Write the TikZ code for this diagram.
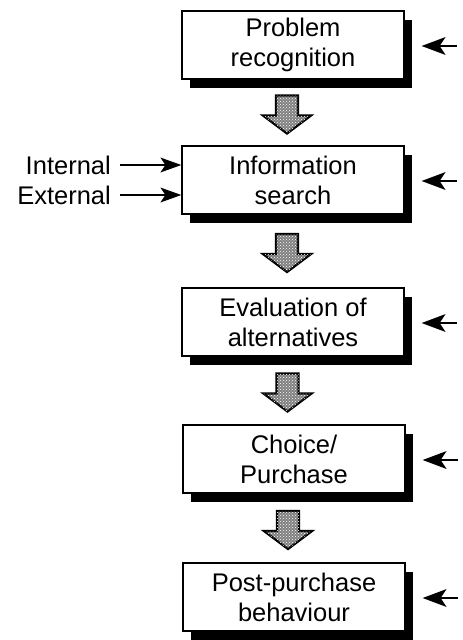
\documentclass[tikz,border=0pt]{standalone}
\usepackage{fontspec}
\setmainfont{Liberation Sans}
\usetikzlibrary{shadows,patterns,calc}
\begin{document}
\begin{tikzpicture}[x=1pt,y=-1pt,
  stage/.style={draw=black, line width=1.3pt, fill=white,
    minimum width=222pt, minimum height=68pt, inner sep=0pt,
    align=center, font=\fontsize{25.5}{30}\selectfont,
    drop shadow={shadow xshift=8pt, shadow yshift=-9pt, fill=black, opacity=1}},
  sidelabel/.style={anchor=east, inner sep=0pt, font=\fontsize{25.5}{30}\selectfont},
  blockarrow/.style={draw=black, line width=2.2pt, fill=black!50,
    postaction={pattern=crosshatch dots, pattern color=white}},
  arrowline/.style={line width=1.8pt},
  headfill/.style={fill=black},
]
\useasboundingbox (0,0) rectangle (463,640);

\node[stage] (b1) at (293,45) {Problem\\recognition};
\node[stage] (b2) at (293,180) {Information\\search};
\node[stage] (b3) at (293,322) {Evaluation of\\alternatives};
\node[stage] (b4) at (294,459) {Choice/\\Purchase};
\node[stage] (b5) at (294,597) {Post-purchase\\behaviour};

% block arrows between stages
\foreach \a/\b/\n in {b1/b2/m1, b2/b3/m2, b3/b4/m3, b4/b5/m4}{
  \coordinate (\n) at ($(\a.south)!0.5!(\b.north)+(-6,2)$);
  \draw[blockarrow, shift={(\n)}] (-11,-19) -- (11,-19) -- (11,1) -- (24,1)
     -- (0,19) -- (-24,1) -- (-11,1) -- cycle;
}

% internal / external inputs
\node[sidelabel] (int) at (111,165) {Internal};
\node[sidelabel] (ext) at (111,195) {External};
\foreach \s in {int, ext}{
  \coordinate (t) at (\s.east -| b2.west);
  \draw[arrowline] ([xshift=9pt]\s.east) -- ($(t)+(-12,0)$);
  \fill[headfill] (t) -- ++(-21,-7.5) -- ++(5,7.5) -- ++(-5,7.5) -- cycle;
}

% feedback arrows from the right
\foreach \b/\r in {b1/r1, b2/r2, b3/r3, b4/r4, b5/r5}{
  \coordinate (\r) at ($(\b.east)+(52,1)$);
  \coordinate (t) at ($(\b.east)+(17,1)$);
  \draw[arrowline] (\r) -- ($(t)+(14,0)$);
  \fill[headfill] (t) -- ++(24,-9) -- ++(-6,9) -- ++(6,9) -- cycle;
}
\end{tikzpicture}
\end{document}
